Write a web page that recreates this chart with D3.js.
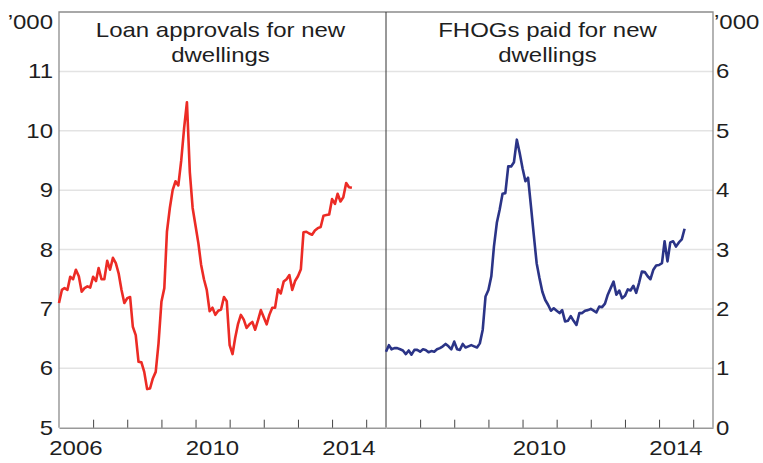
<!DOCTYPE html>
<html>
<head>
<meta charset="utf-8">
<script src="https://cdn.jsdelivr.net/npm/d3@7"></script>
<style>
  html, body { margin: 0; padding: 0; background: #fff; }
  svg { display: block; }
  text { font-family: "Liberation Sans", Arial, Helvetica, sans-serif; fill: #1e1e1e; }
</style>
</head>
<body>
<svg id="chart" width="763" height="463"></svg>
<script>
// monthly series, first point Jan 2006
const loanApprovals = [
  7.10, 7.32, 7.35, 7.32, 7.54, 7.50, 7.66, 7.55, 7.29, 7.35, 7.38, 7.36,
  7.54, 7.47, 7.69, 7.50, 7.50, 7.81, 7.66, 7.86, 7.77, 7.60, 7.32, 7.10,
  7.18, 7.20, 6.70, 6.56, 6.11, 6.10, 5.94, 5.65, 5.66, 5.83, 5.94, 6.42,
  7.12, 7.35, 8.30, 8.70, 9.00, 9.15, 9.08, 9.50, 10.05, 10.48, 9.30, 8.70,
  8.40, 8.10, 7.75, 7.50, 7.32, 6.96, 7.02, 6.90, 6.97, 6.99, 7.20, 7.13,
  6.39, 6.24, 6.51, 6.75, 6.90, 6.82, 6.68, 6.74, 6.78, 6.65, 6.81, 6.98,
  6.86, 6.74, 6.90, 7.02, 7.02, 7.33, 7.26, 7.46, 7.50, 7.57, 7.32, 7.47,
  7.55, 7.67, 8.29, 8.30, 8.27, 8.25, 8.32, 8.36, 8.38, 8.57, 8.58, 8.59,
  8.85, 8.77, 8.94, 8.81, 8.88, 9.12, 9.05, 9.04
];
const fhogsPaid = [
  1.28, 1.39, 1.32, 1.34, 1.34, 1.32, 1.30, 1.24, 1.30, 1.23, 1.31, 1.31,
  1.28, 1.32, 1.31, 1.27, 1.29, 1.28, 1.32, 1.34, 1.37, 1.41, 1.37, 1.32,
  1.45, 1.32, 1.31, 1.41, 1.35, 1.37, 1.39, 1.37, 1.35, 1.42, 1.65, 2.21,
  2.32, 2.55, 3.05, 3.45, 3.67, 3.94, 3.95, 4.40, 4.40, 4.47, 4.85, 4.63,
  4.37, 4.15, 4.21, 3.73, 3.25, 2.77, 2.52, 2.29, 2.15, 2.07, 1.97, 2.01,
  1.97, 1.93, 1.98, 1.79, 1.80, 1.88, 1.80, 1.73, 1.93, 1.93, 1.97, 1.98,
  2.00, 1.97, 1.94, 2.04, 2.03, 2.09, 2.24, 2.35, 2.46, 2.24, 2.31, 2.18,
  2.22, 2.33, 2.31, 2.39, 2.27, 2.44, 2.63, 2.62, 2.55, 2.50, 2.66, 2.73,
  2.74, 2.77, 3.14, 2.80, 3.12, 3.14, 3.05, 3.12, 3.17, 3.35
];
const leftTicks = [5, 6, 7, 8, 9, 10, 11];
const rightTicks = [0, 1, 2, 3, 4, 5, 6];
const leftYearLabels = [2006, 2010, 2014];
const rightYearLabels = [2010, 2014];
const yearTicks = [2007, 2008, 2009, 2010, 2011, 2012, 2013, 2014, 2015];
const titles = [["Loan approvals for new", "dwellings"], ["FHOGs paid for new", "dwellings"]];

const svg = d3.select('#chart');
const plotTop = 12, plotBottom = 427.7;
const lx0 = 59, mid = 386, rx1 = 713;
const sx = 1.2; // glyphs in the original are stretched horizontally

const domain = [new Date(2006, 0, 1), new Date(2015, 7, 1)];
const xLeft = d3.scaleTime().domain(domain).range([lx0, mid]);
const xRight = d3.scaleTime().domain(domain).range([mid, rx1]);
const yLeft = d3.scaleLinear().domain([5, 12]).range([plotBottom, plotTop]);
const yRight = d3.scaleLinear().domain([0, 7]).range([plotBottom, plotTop]);

function label(x, y, str, anchor, size) {
  svg.append('text')
    .attr('transform', `translate(${x},${y}) scale(${sx},1)`)
    .attr('text-anchor', anchor)
    .style('font-size', (size || 20) + 'px')
    .text(str);
}

// gridlines
svg.append('g').selectAll('line')
  .data(leftTicks.slice(1))
  .enter().append('line')
  .attr('x1', lx0).attr('x2', rx1)
  .attr('y1', d => yLeft(d)).attr('y2', d => yLeft(d))
  .attr('stroke', '#e3e3e3').attr('stroke-width', 1.5);

// frame
svg.append('path')
  .attr('d', `M${lx0},${plotBottom}V${plotTop}H${rx1}V${plotBottom}`)
  .attr('fill', 'none').attr('stroke', '#8c8c8c').attr('stroke-width', 1.3);
svg.append('line')
  .attr('x1', mid).attr('x2', mid).attr('y1', plotTop).attr('y2', plotBottom)
  .attr('stroke', '#333').attr('stroke-width', 1);

// x axes, ticks pointing up into the plot
[xLeft, xRight].forEach(x => {
  const g = svg.append('g')
    .attr('transform', `translate(0,${plotBottom})`)
    .call(d3.axisBottom(x)
      .tickValues(yearTicks.map(yr => new Date(yr, 0, 1)))
      .tickSizeInner(-8).tickSizeOuter(0).tickFormat(''));
  g.select('.domain').attr('stroke', '#999').attr('stroke-width', 1.6);
  g.selectAll('.tick line').attr('stroke', '#444');
});

// year labels centred on the year
const midYear = yr => new Date(yr, 6, 1);
leftYearLabels.forEach(yr => label(xLeft(midYear(yr)), 455, yr, 'middle'));
rightYearLabels.forEach(yr => label(xRight(midYear(yr)), 455, yr, 'middle'));

// y labels
leftTicks.forEach(v => label(53, yLeft(v) + 7, v, 'end'));
rightTicks.forEach(v => label(716, yRight(v) + 7, v, 'start'));
label(53, 29, '\u2019000', 'end');
label(714, 29, '\u2019000', 'start');

// titles
label((lx0 + mid) / 2 - 2, 36.5, titles[0][0], 'middle');
label((lx0 + mid) / 2 - 2, 61.5, titles[0][1], 'middle');
label((mid + rx1) / 2 - 2, 36.5, titles[1][0], 'middle');
label((mid + rx1) / 2 - 2, 61.5, titles[1][1], 'middle');

// series
const monthOf = i => new Date(2006, i, 1);
svg.append('path')
  .datum(loanApprovals)
  .attr('fill', 'none').attr('stroke', '#ec2b25').attr('stroke-width', 2.6)
  .attr('stroke-linejoin', 'round')
  .attr('d', d3.line().x((d, i) => xLeft(monthOf(i))).y(d => yLeft(d)));

svg.append('path')
  .datum(fhogsPaid)
  .attr('fill', 'none').attr('stroke', '#2b3487').attr('stroke-width', 2.6)
  .attr('stroke-linejoin', 'round')
  .attr('d', d3.line().x((d, i) => xRight(monthOf(i))).y(d => yRight(d)));
</script>
</body>
</html>
